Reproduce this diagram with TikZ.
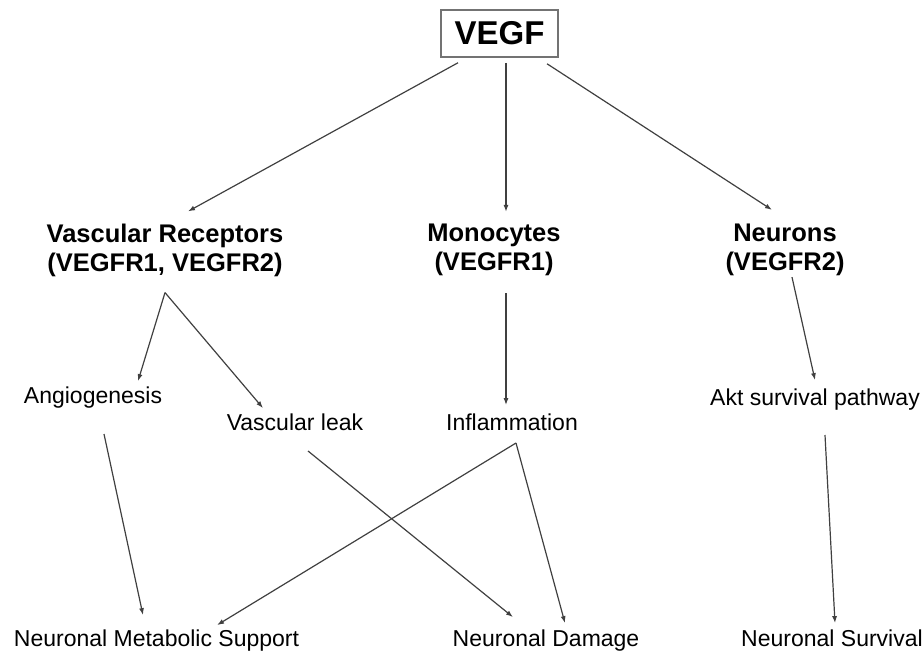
\documentclass[tikz,border=0pt]{standalone}
\usepackage{fontspec}
\setmainfont{Liberation Sans}
\usetikzlibrary{arrows.meta}

\begin{document}
\begin{tikzpicture}[
    x=1pt, y=-1pt,
    conn/.style={draw=black!75, line width=1.2pt, -{Latex[length=7pt,width=5pt]}},
    plain/.style={inner sep=0pt, anchor=base, text height=16.7pt, text depth=4.8pt,
      font=\fontsize{23}{27}\selectfont},
    head/.style={inner sep=0pt, align=center, font=\fontsize{25.5}{29}\selectfont\bfseries}
  ]
    \useasboundingbox (0,0) rectangle (924,654);
    % Faktor oben
    \node[draw=black!55, line width=1.5pt, minimum width=117pt, minimum height=47pt,
      font=\fontsize{33}{36}\selectfont\bfseries] (vegf) at (499.5,33.5) {VEGF};
    % Rezeptoren / Zielzellen
    \node[head] (vasc) at (165,250) {Vascular Receptors\\(VEGFR1, VEGFR2)};
    \node[head] (mono) at (494,250) {Monocytes\\(VEGFR1)};
    \node[head] (neur) at (785,250) {Neurons\\(VEGFR2)};
    % Zwischenebene
    \node[plain] (angio) at (93,403) {Angiogenesis};
    \node[plain] (leak) at (295,430) {Vascular leak};
    \node[plain] (infl) at (512,430) {Inflammation};
    \node[plain] (akt) at (815,405) {Akt survival pathway};
    % Folgen unten
    \node[plain] (nms) at (156.5,646) {Neuronal Metabolic Support};
    \node[plain] (ndam) at (546,646) {Neuronal Damage};
    \node[plain] (nsurv) at (832,646) {Neuronal Survival};
    % Pfeile von VEGF
    \draw[conn] ([xshift=-41.5pt,yshift=-5pt]vegf.south) -- ([xshift=23pt,yshift=12pt]vasc.north);
    \draw[conn] ([xshift=6.5pt,yshift=-5pt]vegf.south) -- ([xshift=12pt,yshift=12pt]mono.north);
    \draw[conn] ([xshift=47.5pt,yshift=-6pt]vegf.south) -- ([xshift=-13pt,yshift=14pt]neur.north);
    % Verzweigung der Gefaessrezeptoren
    \draw[conn] ([yshift=-16pt]vasc.south) -- ([xshift=45pt,yshift=5pt]angio.north);
    \draw[conn] ([yshift=-16pt]vasc.south) -- ([xshift=-32pt,yshift=5pt]leak.north);
    \draw[conn] ([xshift=12pt,yshift=-17pt]mono.south) -- ([xshift=-6pt,yshift=8pt]infl.north);
    \draw[conn] ([xshift=7pt,yshift=-1pt]neur.south) -- ([yshift=8pt]akt.north);
    % zur untersten Ebene
    \draw[conn] ([xshift=11pt,yshift=-26pt]angio.south) -- ([xshift=-13.5pt,yshift=14pt]nms.north);
    \draw[conn] ([xshift=13pt,yshift=-16pt]leak.south) -- ([xshift=-33pt,yshift=12pt]ndam.north);
    \draw[conn] ([xshift=4pt,yshift=-8pt]infl.south) -- ([xshift=60.5pt,yshift=4pt]nms.north);
    \draw[conn] ([xshift=4pt,yshift=-8pt]infl.south) -- ([xshift=19pt,yshift=6pt]ndam.north);
    \draw[conn] ([xshift=10pt,yshift=-25pt]akt.south) -- ([xshift=3pt,yshift=6pt]nsurv.north);
\end{tikzpicture}
\end{document}
